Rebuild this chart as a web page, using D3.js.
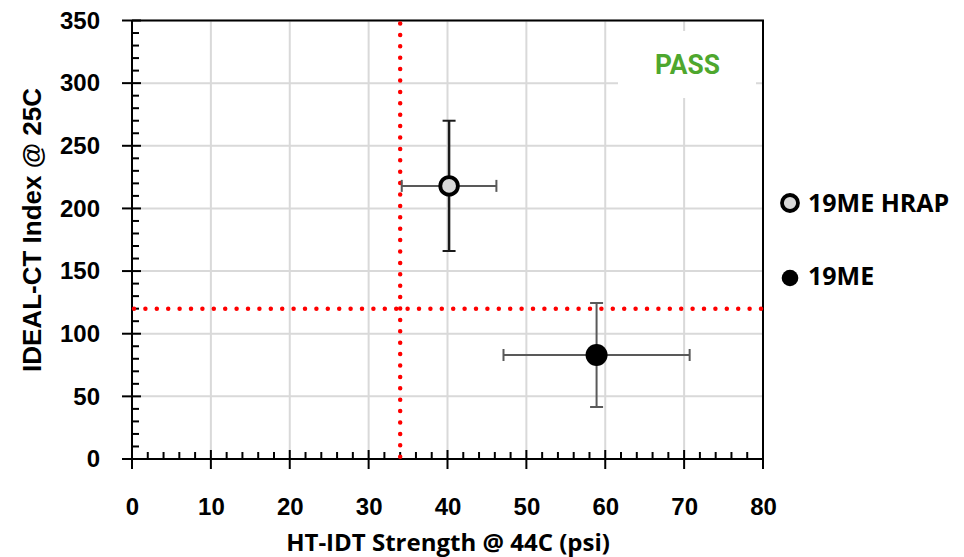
<!DOCTYPE html>
<html><head><meta charset="utf-8">
<script src="https://cdn.jsdelivr.net/npm/d3@7"></script>
<style>body{margin:0;background:#fff}svg{display:block}</style>
</head><body>
<svg id="c" width="964" height="557"></svg>
<script>
const seriesNames = ["19ME HRAP", "19ME"];
const xValues = [40.2, 58.9];
const yValues = [218, 83];
const xErr = [6.0, 11.8];
const yErr = [52, 41.5];
const fills = ["#d9d9d9", "#000000"];
const xTicks = [0,10,20,30,40,50,60,70,80];
const yTicks = [0,50,100,150,200,250,300,350];
const thresholdX = 34;
const thresholdY = 120;

const svg = d3.select("#c");
const L = 132, R = 763, T = 20.5, B = 459;
const x = d3.scaleLinear().domain([0,80]).range([L,R]);
const y = d3.scaleLinear().domain([0,350]).range([B,T]);
const tickFont = "'Liberation Sans', Arial, sans-serif";
const labFont = "'Open Sans', 'Liberation Sans', sans-serif";

// gridlines
const g = svg.append("g");
g.selectAll(".vg").data(xTicks.slice(1)).join("line")
  .attr("x1", d=>x(d)).attr("x2", d=>x(d)).attr("y1", T).attr("y2", B)
  .attr("stroke", "#d9d9d9").attr("stroke-width", 2);
g.selectAll(".hg").data(yTicks.slice(1)).join("line")
  .attr("x1", L).attr("x2", R).attr("y1", d=>y(d)).attr("y2", d=>y(d))
  .attr("stroke", "#d9d9d9").attr("stroke-width", 2);

// PASS box
svg.append("rect").attr("x", 618).attr("y", 31).attr("width", 138).attr("height", 67).attr("fill", "#fff");
svg.append("text").attr("x", 687.5).attr("y", 74).attr("text-anchor", "middle")
  .attr("font-family", "Roboto, 'Liberation Sans', sans-serif").attr("font-weight", "bold")
  .attr("font-size", 27).attr("fill", "#4ea72e").attr("textLength", 65).attr("lengthAdjust", "spacingAndGlyphs").text("PASS");

// frame top & right
svg.append("line").attr("x1", L).attr("x2", R+1).attr("y1", T).attr("y2", T).attr("stroke", "#000").attr("stroke-width", 2);
svg.append("line").attr("x1", R).attr("x2", R).attr("y1", T).attr("y2", B).attr("stroke", "#000").attr("stroke-width", 2);

// axes
const yAxis = d3.axisLeft(y).tickValues(yTicks).tickSize(0).tickFormat(d3.format("d")).tickPadding(32);
const ya = svg.append("g").attr("transform", `translate(${L},0)`).call(yAxis);
ya.select(".domain").remove();
ya.selectAll("text").attr("font-family", tickFont).attr("font-weight", "bold").attr("font-size", 24).attr("fill", "#000");

const xAxis = d3.axisBottom(x).tickValues(xTicks).tickSize(0).tickFormat(d3.format("d")).tickPadding(39);
const xa = svg.append("g").attr("transform", `translate(0,${B})`).call(xAxis);
xa.select(".domain").remove();
xa.selectAll("text").attr("font-family", tickFont).attr("font-weight", "bold").attr("font-size", 24).attr("fill", "#000");

// minor ticks
const yMinor = d3.range(0, 351, 10).filter(v => v % 50 !== 0);
svg.append("g").selectAll("line").data(yMinor).join("line")
  .attr("x1", L).attr("x2", L+7).attr("y1", d=>y(d)).attr("y2", d=>y(d)).attr("stroke", "#000").attr("stroke-width", 2);
svg.append("g").selectAll("line").data(yTicks).join("line")
  .attr("x1", L-10).attr("x2", L+9).attr("y1", d=>y(d)).attr("y2", d=>y(d)).attr("stroke", "#000").attr("stroke-width", 2);
const xMinor = d3.range(0, 81, 2).filter(v => v % 10 !== 0);
svg.append("g").selectAll("line").data(xMinor).join("line")
  .attr("x1", d=>x(d)).attr("x2", d=>x(d)).attr("y1", B).attr("y2", B-7).attr("stroke", "#000").attr("stroke-width", 2);
svg.append("g").selectAll("line").data(xTicks).join("line")
  .attr("x1", d=>x(d)).attr("x2", d=>x(d)).attr("y1", B-9).attr("y2", B+10).attr("stroke", "#000").attr("stroke-width", 2);

// spines
svg.append("line").attr("x1", L).attr("x2", L).attr("y1", T).attr("y2", B).attr("stroke", "#000").attr("stroke-width", 2);
svg.append("line").attr("x1", L-10).attr("x2", R).attr("y1", B).attr("y2", B).attr("stroke", "#000").attr("stroke-width", 2);

// threshold dotted lines
svg.append("line").attr("x1", x(thresholdX)).attr("x2", x(thresholdX)).attr("y1", T+3).attr("y2", B)
  .attr("stroke", "#ff0000").attr("stroke-width", 4.5).attr("stroke-linecap", "round").attr("stroke-dasharray", "0 11.4");
svg.append("line").attr("x1", R-2).attr("x2", L).attr("y1", y(thresholdY)).attr("y2", y(thresholdY))
  .attr("stroke", "#ff0000").attr("stroke-width", 4.5).attr("stroke-linecap", "round").attr("stroke-dasharray", "0 11.4");

// error bars
const pts = seriesNames.map((n,i)=>({n, x:xValues[i], y:yValues[i], ex:xErr[i], ey:yErr[i], fill:fills[i], i}));
const eb = svg.append("g");
pts.forEach(p => {
  const hc = "#595959";
  const vc = p.i === 0 ? "#1a1a1a" : "#595959";
  eb.append("line").attr("x1", x(p.x-p.ex)).attr("x2", x(p.x+p.ex)).attr("y1", y(p.y)).attr("y2", y(p.y)).attr("stroke", hc).attr("stroke-width", 2);
  [p.x-p.ex, p.x+p.ex].forEach(v => eb.append("line").attr("x1", x(v)).attr("x2", x(v)).attr("y1", y(p.y)-6).attr("y2", y(p.y)+6).attr("stroke", hc).attr("stroke-width", 2));
  eb.append("line").attr("x1", x(p.x)).attr("x2", x(p.x)).attr("y1", y(p.y-p.ey)).attr("y2", y(p.y+p.ey)).attr("stroke", vc).attr("stroke-width", p.i === 0 ? 2.5 : 2);
  [p.y-p.ey, p.y+p.ey].forEach(v => eb.append("line").attr("x1", x(p.x)-6.5).attr("x2", x(p.x)+6.5).attr("y1", y(v)).attr("y2", y(v)).attr("stroke", vc).attr("stroke-width", 2));
});

// markers
svg.append("g").selectAll("circle").data(pts).join("circle")
  .attr("cx", d=>x(d.x)).attr("cy", d=>y(d.y))
  .attr("r", d => d.i === 0 ? 8.8 : 11)
  .attr("fill", d=>d.fill)
  .attr("stroke", "#000").attr("stroke-width", d => d.i === 0 ? 3.8 : 0);

// legend
const legY = [203, 278];
const legBase = [212, 285];
const lg = svg.append("g");
pts.forEach((p,i) => {
  lg.append("circle").attr("cx", 790).attr("cy", legY[i])
    .attr("r", i === 0 ? 8 : 8.3).attr("fill", p.fill).attr("stroke", "#000").attr("stroke-width", i === 0 ? 3.8 : 0);
  lg.append("text").attr("x", 808).attr("y", legBase[i])
    .attr("font-family", labFont).attr("font-weight", "bold").attr("font-size", 25).attr("fill", "#000").text(p.n);
});

// axis titles
svg.append("text").attr("x", 448).attr("y", 551).attr("text-anchor", "middle")
  .attr("font-family", labFont).attr("font-weight", "bold").attr("font-size", 24).attr("fill", "#000")
  .text("HT-IDT Strength @ 44C (psi)");
svg.append("text").attr("transform", "translate(41,230) rotate(-90)").attr("text-anchor", "middle")
  .attr("font-family", tickFont).attr("font-weight", "bold").attr("font-size", 26).attr("fill", "#000")
  .text("IDEAL-CT Index @ 25C");
</script>
</body></html>
